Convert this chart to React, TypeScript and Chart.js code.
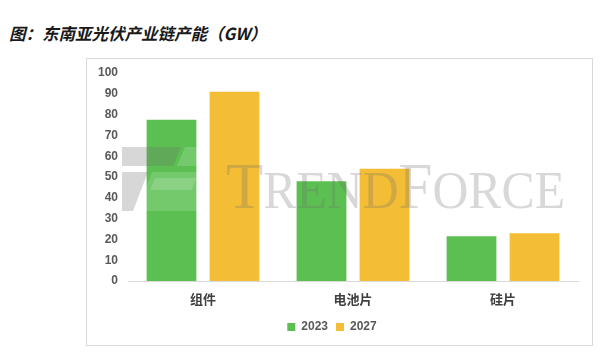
import React, { useEffect, useRef } from "react";
import { Chart, registerables } from "chart.js";

Chart.register(...registerables);

const categories = ["组件", "电池片", "硅片"];
const seriesNames = ["2023", "2027"];
const values2023 = [77.5, 48, 21.5];
const values2027 = [91, 54, 23];
const seriesColors = ["#5bbf51", "#f3bd35"];
const yMin = 0;
const yMax = 100;
const yStep = 10;
const titleText = "图：东南亚光伏产业链产能（GW）";
const watermarkText = "TRENDFORCE";

const FONT = "'Liberation Sans', 'Noto Sans CJK SC', sans-serif";

const framePlugin = {
  id: "frame",
  beforeDraw(chart: any) {
    const ctx = chart.ctx;
    ctx.save();
    ctx.strokeStyle = "#d9d9d9";
    ctx.lineWidth = 1;
    ctx.strokeRect(86.5, 58.5, 506, 287);
    ctx.restore();
  },
};

const watermarkPlugin = {
  id: "watermark",
  afterDatasetsDraw(chart: any) {
    const ctx = chart.ctx;
    ctx.save();
    // logo
    ctx.fillStyle = "rgba(110,110,110,0.28)";
    ctx.beginPath();
    ctx.moveTo(122, 147);
    ctx.lineTo(181, 147);
    ctx.lineTo(173, 166);
    ctx.lineTo(122, 166);
    ctx.closePath();
    ctx.fill();
    ctx.beginPath();
    ctx.moveTo(122, 172);
    ctx.lineTo(148, 172);
    ctx.lineTo(133, 211);
    ctx.lineTo(122, 211);
    ctx.closePath();
    ctx.fill();
    ctx.fillStyle = "rgba(255,255,255,0.16)";
    ctx.beginPath();
    ctx.moveTo(185, 147);
    ctx.lineTo(207, 147);
    ctx.lineTo(207, 166);
    ctx.lineTo(177, 166);
    ctx.closePath();
    ctx.fill();
    ctx.beginPath();
    ctx.moveTo(155, 178);
    ctx.lineTo(196, 178);
    ctx.lineTo(192, 190);
    ctx.lineTo(150, 190);
    ctx.closePath();
    ctx.fill();
    ctx.beginPath();
    ctx.moveTo(152, 172);
    ctx.lineTo(205, 172);
    ctx.lineTo(205, 211);
    ctx.lineTo(137, 211);
    ctx.closePath();
    ctx.fill();
    // text (small caps)
    ctx.fillStyle = "rgba(110,110,110,0.27)";
    ctx.textBaseline = "alphabetic";
    const big = "65px 'Liberation Serif', serif";
    const small = "53px 'Liberation Serif', serif";
    const parts: [string, string][] = [
      [watermarkText.slice(0, 1), big],
      [watermarkText.slice(1, 5), small],
      [watermarkText.slice(5, 6), big],
      [watermarkText.slice(6), small],
    ];
    let total = 0;
    for (const [t, f] of parts) {
      ctx.font = f;
      total += ctx.measureText(t).width;
    }
    const x0 = 226;
    const targetW = 565 - 226;
    const sx = targetW / total;
    ctx.translate(x0, 208);
    ctx.scale(sx, 1);
    let x = 0;
    for (const [t, f] of parts) {
      ctx.font = f;
      ctx.fillText(t, x, 0);
      x += ctx.measureText(t).width;
    }
    ctx.restore();
  },
};

export default function App() {
  const ref = useRef<HTMLCanvasElement | null>(null);
  useEffect(() => {
    if (!ref.current) return;
    const chart = new Chart(ref.current, {
      type: "bar",
      data: {
        labels: categories,
        datasets: [
          {
            label: seriesNames[0],
            data: values2023,
            backgroundColor: seriesColors[0],
            categoryPercentage: 0.84,
            barPercentage: 0.79,
          },
          {
            label: seriesNames[1],
            data: values2027,
            backgroundColor: seriesColors[1],
            categoryPercentage: 0.84,
            barPercentage: 0.79,
          },
        ],
      },
      options: {
        animation: false,
        responsive: false,
        maintainAspectRatio: false,
        layout: { padding: { left: 86, right: 34, top: 73, bottom: 15 } },
        plugins: {
          title: { display: false },
          tooltip: { enabled: false },
          legend: {
            position: "bottom",
            labels: {
              boxWidth: 8,
              boxHeight: 8,
              padding: 8,
              color: "#595959",
              font: { family: FONT, size: 12, weight: "bold" },
            },
          },
        },
        scales: {
          x: {
            grid: { display: false, drawTicks: false },
            border: { display: true, color: "#d9d9d9", width: 1 },
            ticks: {
              padding: 10,
              color: "#404040",
              font: { family: "'Noto Sans CJK SC', sans-serif", size: 13, weight: "bold" },
            },
            afterFit: (s: any) => {
              s.height = 32;
            },
          },
          y: {
            min: yMin,
            max: yMax,
            grid: { display: false, drawTicks: false },
            border: { display: false },
            ticks: {
              stepSize: yStep,
              padding: 10,
              color: "#595959",
              font: { family: FONT, size: 12, weight: "bold" },
            },
            afterFit: (s: any) => {
              s.width = 42;
            },
          },
        },
      },
      plugins: [framePlugin, watermarkPlugin],
    });
    return () => chart.destroy();
  }, []);
  return (
    <div style={{ position: "fixed", left: 0, top: 0, width: 612, height: 358, background: "#fff" }}>
      <div
        style={{
          position: "absolute",
          left: 9,
          top: 22,
          fontFamily: "'Noto Sans CJK SC', sans-serif",
          fontSize: 16.5,
          fontWeight: "bold",
          fontStyle: "italic",
          lineHeight: "22px",
          color: "#1a1a1a",
          whiteSpace: "nowrap",
        }}
      >
        {titleText}
      </div>
      <canvas ref={ref} width={612} height={358} style={{ position: "absolute", left: 0, top: 0 }} />
    </div>
  );
}
